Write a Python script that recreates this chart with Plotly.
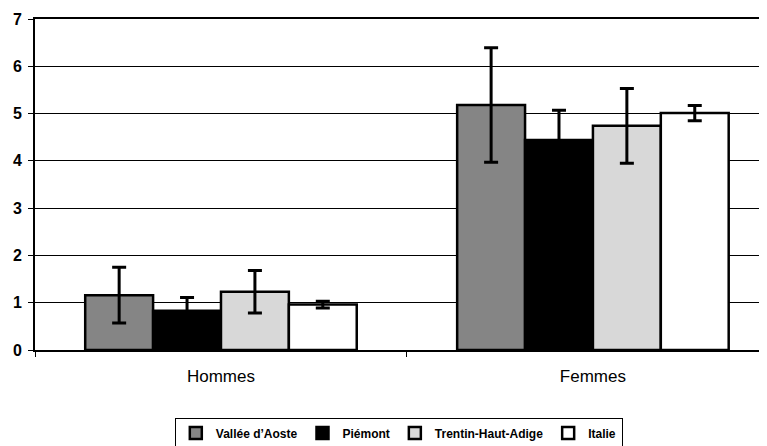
import plotly.graph_objects as go

# Data
groups = ["Hommes", "Femmes"]
series = ["Vallée d’Aoste", "Piémont", "Trentin-Haut-Adige", "Italie"]
values = {
    "Vallée d’Aoste": [1.16, 5.18],
    "Piémont": [0.83, 4.44],
    "Trentin-Haut-Adige": [1.23, 4.74],
    "Italie": [0.96, 5.01],
}
errors = {
    "Vallée d’Aoste": [0.59, 1.21],
    "Piémont": [0.28, 0.63],
    "Trentin-Haut-Adige": [0.45, 0.79],
    "Italie": [0.07, 0.16],
}
colors = {
    "Vallée d’Aoste": "#858585",
    "Piémont": "#000000",
    "Trentin-Haut-Adige": "#d8d8d8",
    "Italie": "#ffffff",
}

fig = go.Figure()
for s in series:
    fig.add_trace(go.Bar(
        x=groups, y=values[s], name=s,
        marker=dict(color=colors[s], line=dict(color="black", width=2.5)),
        error_y=dict(type="data", array=errors[s], visible=True,
                     color="black", thickness=3, width=7),
    ))

# the page body adds an 8px offset, so the figure is 759x438
fig.update_layout(
    width=759, height=438,
    barmode="group", bargap=0.27, bargroupgap=0,
    plot_bgcolor="white", paper_bgcolor="white",
    margin=dict(l=27, r=0, t=11, b=96, autoexpand=False),
    font=dict(family="Liberation Sans, Arial", color="black"),
    showlegend=True,
    legend=dict(orientation="h", x=0.497, xanchor="center", y=-0.204, yanchor="top",
                bordercolor="black", borderwidth=1,
                font=dict(size=12, family="Liberation Sans, Arial", weight="bold"),
                itemwidth=30, tracegroupgap=0),
    xaxis=dict(range=[-0.5, 1.468], showline=True, mirror=True, linecolor="black",
               linewidth=2, ticks="outside", tickson="boundaries", ticklen=5,
               tickcolor="black", tickfont=dict(size=17), automargin=False,
               ticklabelstandoff=10),
    yaxis=dict(range=[0, 7], dtick=1, showgrid=True, gridcolor="black", gridwidth=1,
               showline=True, linecolor="black", linewidth=2, ticks="outside",
               ticklen=5, tickcolor="black", zeroline=False, automargin=False,
               ticklabelstandoff=3, tickfont=dict(size=16, weight="bold")),
)

fig.write_html("out.html")
